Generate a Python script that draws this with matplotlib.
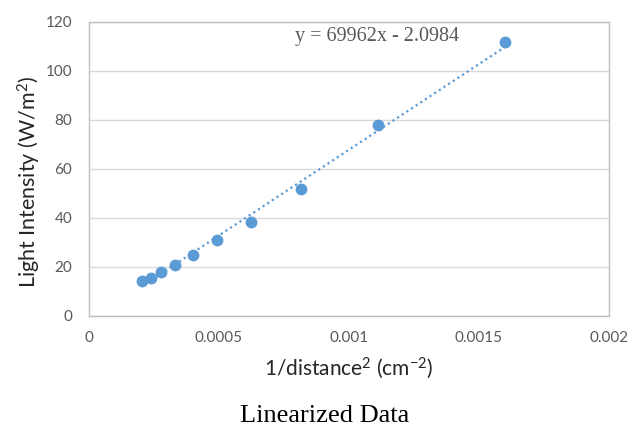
import numpy as np
import matplotlib
matplotlib.use('Agg')
import matplotlib.pyplot as plt

plt.rcParams['font.family'] = ['Lato', 'DejaVu Sans']
plt.rcParams['mathtext.fontset'] = 'custom'
plt.rcParams['mathtext.rm'] = 'Lato'
plt.rcParams['mathtext.it'] = 'Lato:italic'

# 数据
inv_dist_sq = [0.000204, 0.000237, 0.000278, 0.000331, 0.000400,
               0.000494, 0.000625, 0.000816, 0.001111, 0.001600]
intensity = [14.3, 15.5, 18.0, 20.8, 24.9, 31.0, 38.4, 51.8, 78.0, 111.8]

# 趋势线系数 (图中公式)
slope = 69962
intercept = -2.0984

xticks = [0, 0.0005, 0.001, 0.0015, 0.002]
xtick_labels = ['0', '0.0005', '0.001', '0.0015', '0.002']
yticks = [0, 20, 40, 60, 80, 100, 120]

blue = '#5B9BD5'
grey_txt = '#595959'

fig = plt.figure(figsize=(6.42, 4.28), dpi=100)
ax = fig.add_axes([0.1386, 0.2617, 0.81, 0.6869])

# 趋势线
xs = np.array([min(inv_dist_sq), max(inv_dist_sq)])
ax.plot(xs, slope * xs + intercept, linestyle=(0, (1, 1.5)), color=blue, linewidth=1.6, zorder=2)

ax.plot(inv_dist_sq, intensity, 'o', color=blue, markersize=7.5, zorder=3)

ax.set_xlim(0, 0.002)
ax.set_ylim(0, 120)
ax.set_xticks(xticks)
ax.set_xticklabels(xtick_labels)
ax.set_yticks(yticks)
ax.tick_params(length=0, labelsize=11, labelcolor=grey_txt)
ax.tick_params(axis='x', pad=11)
ax.tick_params(axis='y', pad=12)

ax.grid(True, axis='y', color='#D9D9D9', linewidth=1)
ax.set_axisbelow(True)
for sp in ax.spines.values():
    sp.set_color('#BFBFBF')
    sp.set_linewidth(1)

fig.text(0.543, 0.140, '1/distance$^{2}$ (cm$^{-2}$)', fontsize=15, color='#262626',
         ha='center', va='center')
fig.text(0.046, 0.575, 'Light Intensity (W/m$^{2}$)', fontsize=15.5, color='#262626',
         ha='center', va='center', rotation=90)

ax.text(0.000792, 113.9, 'y = 69962x - 2.0984', fontsize=14.5, color=grey_txt,
        family='Liberation Serif', va='center')

fig.text(0.506, 0.028, 'Linearized Data', fontsize=19, family='Liberation Serif',
         ha='center', va='center', color='black')

fig.savefig('out.png', dpi=100)
